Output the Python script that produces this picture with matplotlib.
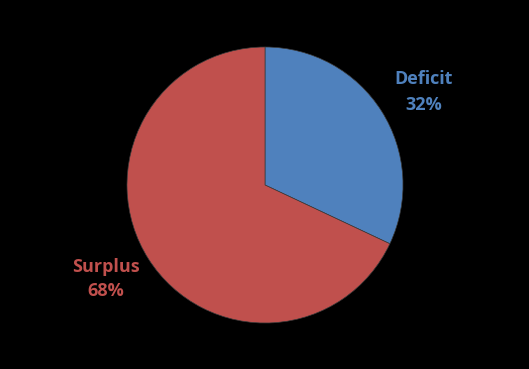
import matplotlib
matplotlib.use("Agg")
import matplotlib.pyplot as plt

categories = ["Deficit", "Surplus"]
values = [32, 68]
colors = ["#4F81BD", "#C0504D"]

W, H = 529, 369
fig = plt.figure(figsize=(W / 100, H / 100), dpi=100, facecolor="black")
ax = fig.add_axes([0, 0, 1, 1])
ax.set_facecolor("black")
ax.axis("off")

ax.pie(values, colors=colors, startangle=90, counterclock=False,
       center=(265, H - 185), radius=138,
       wedgeprops=dict(edgecolor="#3a3a3a", linewidth=0.5))
ax.set_xlim(0, W)
ax.set_ylim(0, H)
ax.set_aspect("equal")

label_pos = [(423.5, H - 92), (105.5, H - 279)]
for cat, val, col, (x, y) in zip(categories, values, colors, label_pos):
    ax.text(x, y, f"{cat}\n{val}%", color=col, ha="center", va="center",
            fontsize=13, fontweight="bold", family=["Open Sans", "DejaVu Sans"],
            linespacing=1.5)

fig.savefig("out.png", dpi=100, facecolor="black")
